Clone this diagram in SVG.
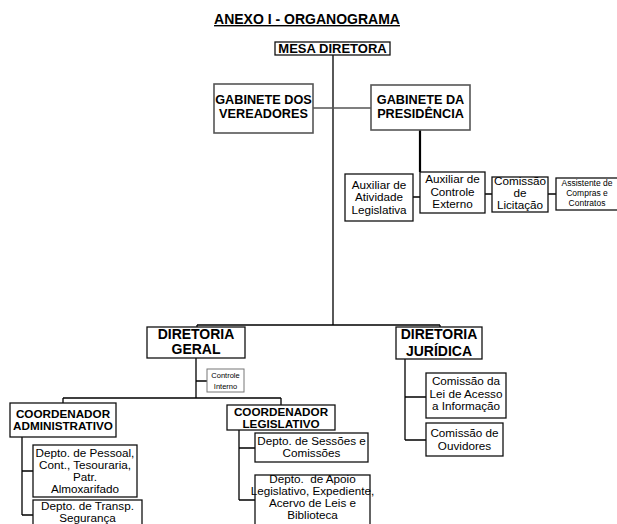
<svg xmlns="http://www.w3.org/2000/svg" width="617" height="524" viewBox="0 0 617 524">
<style>
text{font-family:"Liberation Sans",Arial,sans-serif;fill:#000;text-anchor:middle}
.b{font-weight:bold}
.box{fill:#fff;stroke:#111;stroke-width:1.3}
.gbox{fill:#fff;stroke:#555;stroke-width:1.6}
.lbox{fill:#fff;stroke:#777;stroke-width:1}
.c{stroke:#000;stroke-width:1.3;fill:none}
.r{font-size:11.7px}
</style>
<rect width="617" height="524" fill="#fff"/>
<text x="307" y="24" class="b" font-size="14" text-decoration="underline">ANEXO I - ORGANOGRAMA</text>
<g id="connectors">
<path class="c" d="M333 55V325M197 325H440M197 325V327M440 325V327"/>
<path d="M313 108H333M333 108H371" stroke="#555" stroke-width="1.5" fill="none"/>
<path d="M420 130V172" stroke="#000" stroke-width="2.2" fill="none"/>
<path class="c" d="M413 197H420M485 194H492M548 194H556"/>
<path class="c" d="M196 358V398M196 381H207M63 398H281M63 398V403M281 398V405"/>
<path class="c" d="M22 437V515M22 471H33M22 515H33"/>
<path class="c" d="M239 430V500M239 448H255M239 500H255"/>
<path class="c" d="M405 359V440M405 397H426M405 440H426"/>
</g>
<g id="mesa"><rect class="box" x="275" y="42" width="115" height="13"/><text x="332.5" y="53" class="b" font-size="13">MESA DIRETORA</text></g>
<g id="gab-vereadores"><rect class="gbox" x="214" y="84" width="99" height="49"/><text class="b" font-size="12.7"><tspan x="263.5" y="104">GABINETE DOS</tspan><tspan x="263.5" y="118">VEREADORES</tspan></text></g>
<g id="gab-presidencia"><rect class="gbox" x="371" y="85" width="99" height="45"/><text class="b" font-size="12.7"><tspan x="420.5" y="104">GABINETE DA</tspan><tspan x="420.5" y="118">PRESIDÊNCIA</tspan></text></g>
<g id="aux-atividade"><rect class="box" x="345" y="174" width="68" height="47"/><text class="r"><tspan x="379" y="188.5">Auxiliar de</tspan><tspan x="379" y="201">Atividade</tspan><tspan x="379" y="213.5">Legislativa</tspan></text></g>
<g id="aux-controle"><rect class="box" x="420" y="172" width="65" height="41"/><text class="r"><tspan x="452.5" y="183">Auxiliar de</tspan><tspan x="452.5" y="195.5">Controle</tspan><tspan x="452.5" y="207.5">Externo</tspan></text></g>
<g id="comissao-licitacao"><rect class="box" x="492" y="177" width="56" height="35"/><text class="r"><tspan x="520" y="185">Comissão</tspan><tspan x="520" y="197">de</tspan><tspan x="520" y="209">Licitação</tspan></text></g>
<g id="assistente"><rect class="box" x="556" y="178" width="64" height="32"/><text font-size="8.5"><tspan x="587" y="186">Assistente de</tspan><tspan x="587" y="196">Compras e</tspan><tspan x="587" y="206">Contratos</tspan></text></g>
<g id="dir-geral"><rect class="box" x="147" y="327" width="98" height="31"/><text class="b" font-size="14"><tspan x="196" y="339">DIRETORIA</tspan><tspan x="196" y="354">GERAL</tspan></text></g>
<g id="dir-juridica"><rect class="box" x="396" y="327" width="86" height="32"/><text class="b" font-size="14"><tspan x="439" y="339">DIRETORIA</tspan><tspan x="439" y="355.5">JURÍDICA</tspan></text></g>
<g id="controle-interno"><rect class="lbox" x="207" y="369" width="37" height="23"/><text font-size="7.5" fill="#222"><tspan x="225.5" y="378">Controle</tspan><tspan x="225.5" y="389">Interno</tspan></text></g>
<g id="coord-adm"><rect class="box" x="10" y="403" width="106" height="34"/><text class="b" font-size="11.7"><tspan x="63" y="418">COORDENADOR</tspan><tspan x="63" y="430">ADMINISTRATIVO</tspan></text></g>
<g id="coord-leg"><rect class="box" x="227" y="405" width="108" height="25"/><text class="b" font-size="11.7"><tspan x="281" y="415.5">COORDENADOR</tspan><tspan x="281" y="427.5">LEGISLATIVO</tspan></text></g>
<g id="depto-pessoal"><rect class="box" x="33" y="445" width="104" height="52"/><text class="r"><tspan x="85" y="457">Depto. de Pessoal,</tspan><tspan x="85" y="469">Cont., Tesouraria,</tspan><tspan x="85" y="481">Patr.</tspan><tspan x="85" y="493">Almoxarifado</tspan></text></g>
<g id="depto-transp"><rect class="box" x="33" y="500" width="109" height="34"/><text class="r"><tspan x="87.5" y="510">Depto. de Transp.</tspan><tspan x="87.5" y="522">Segurança</tspan></text></g>
<g id="depto-sessoes"><rect class="box" x="255" y="433" width="113" height="29"/><text class="r"><tspan x="311.5" y="445">Depto. de Sessões e</tspan><tspan x="311.5" y="457">Comissões</tspan></text></g>
<g id="depto-apoio"><rect class="box" x="255" y="475" width="115" height="60"/><text class="r"><tspan x="312.5" y="483" xml:space="preserve">Depto.  de Apoio</tspan><tspan x="312.5" y="495">Legislativo, Expediente,</tspan><tspan x="312.5" y="507">Acervo de Leis e</tspan><tspan x="312.5" y="519">Biblioteca</tspan></text></g>
<g id="comissao-lei"><rect class="box" x="426" y="373" width="80" height="45"/><text class="r"><tspan x="466" y="385">Comissão da</tspan><tspan x="466" y="397.5">Lei de Acesso</tspan><tspan x="466" y="410">a Informação</tspan></text></g>
<g id="comissao-ouvidores"><rect class="box" x="426" y="423" width="77" height="33"/><text class="r"><tspan x="464.5" y="437">Comissão de</tspan><tspan x="464.5" y="450">Ouvidores</tspan></text></g>
</svg>
